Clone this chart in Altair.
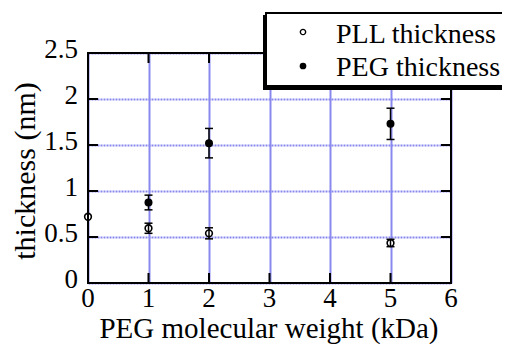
import altair as alt
import pandas as pd

# ---- data ----
pll_mw = [0, 1, 2, 5]
pll_thk = [0.72, 0.595, 0.54, 0.435]
pll_err = [0.0, 0.055, 0.06, 0.04]

peg_mw = [1, 2, 5]
peg_thk = [0.875, 1.52, 1.73]
peg_err = [0.08, 0.16, 0.17]

x_ticks = [0, 1, 2, 3, 4, 5, 6]
y_ticks = [0, 0.5, 1, 1.5, 2, 2.5]
x_tick_labels = ["0", "1", "2", "3", "4", "5", "6"]
y_tick_labels = ["0", "0.5", "1", "1.5", "2", "2.5"]
x_title = "PEG molecular weight (kDa)"
y_title = "thickness (nm)"
legend_labels = ["PLL thickness", "PEG thickness"]

W, H = 363, 230
FONT = "Liberation Serif"
GRID = "#8888ee"

pll = pd.DataFrame({"x": pll_mw, "y": pll_thk, "e": pll_err})
peg = pd.DataFrame({"x": peg_mw, "y": peg_thk, "e": peg_err})
pll_eb = pll[pll["e"] > 0]

xs = alt.Scale(domain=[0, 6], nice=False, zero=False)
ys = alt.Scale(domain=[0, 2.5], nice=False, zero=False)

XA = alt.Axis(
    values=x_ticks, grid=True, gridColor=GRID, gridWidth=2, gridOpacity=1,
    domain=False, ticks=False, tickSize=0, labels=False, title=None)
YA = alt.Axis(
    values=y_ticks, grid=True, gridColor=GRID, gridWidth=2, gridOpacity=1,
    gridDash=[2, 1], domain=False, ticks=False, tickSize=0, labels=False,
    title=None)


def X(f):
    return alt.X(f, scale=xs, axis=XA)


def Y(f):
    return alt.Y(f, scale=ys, axis=YA)


one = pd.DataFrame({"a": [0]})

frame_style = dict(color="black", strokeWidth=2, strokeCap="square")
frame_top = alt.Chart(one).mark_rule(**frame_style).encode(
    x=alt.datum(0, scale=xs, axis=XA), x2=alt.datum(6),
    y=alt.datum(2.5, scale=ys, axis=YA))
frame_bot = alt.Chart(one).mark_rule(**frame_style).encode(
    x=alt.datum(0, scale=xs, axis=XA), x2=alt.datum(6),
    y=alt.datum(0, scale=ys, axis=YA))
frame_l = alt.Chart(one).mark_rule(**frame_style).encode(
    x=alt.datum(0, scale=xs, axis=XA),
    y=alt.datum(0, scale=ys, axis=YA), y2=alt.datum(2.5))
frame_r = alt.Chart(one).mark_rule(**frame_style).encode(
    x=alt.datum(6, scale=xs, axis=XA),
    y=alt.datum(0, scale=ys, axis=YA), y2=alt.datum(2.5))

xt = pd.DataFrame({"v": x_ticks[1:-1]})
yt = pd.DataFrame({"v": y_ticks[1:-1]})
tk = dict(color="black", strokeWidth=2)
tick_b = alt.Chart(xt).mark_rule(**tk).encode(
    x=X("v:Q"), y=alt.value(H - 10), y2=alt.value(H))
tick_t = alt.Chart(xt).mark_rule(**tk).encode(
    x=X("v:Q"), y=alt.value(0), y2=alt.value(10))
tick_l = alt.Chart(yt).mark_rule(**tk).encode(
    y=Y("v:Q"), x=alt.value(0), x2=alt.value(10))
tick_r = alt.Chart(yt).mark_rule(**tk).encode(
    y=Y("v:Q"), x=alt.value(W - 10), x2=alt.value(W))

# tick labels and titles as text marks (serif)
xl = pd.DataFrame({"v": x_ticks, "t": x_tick_labels})
yl = pd.DataFrame({"v": y_ticks, "t": y_tick_labels})
x_labels = alt.Chart(xl).mark_text(
    font=FONT, fontSize=27, color="black", align="center",
    baseline="alphabetic").encode(x=X("v:Q"), y=alt.value(H + 24), text="t:N")
y_labels = alt.Chart(yl).mark_text(
    font=FONT, fontSize=27, color="black", align="right",
    baseline="alphabetic", dy=5).encode(y=Y("v:Q"), x=alt.value(-10), text="t:N")
xtt = alt.Chart(pd.DataFrame({"t": [x_title]})).mark_text(
    font=FONT, fontSize=29, color="black", align="center",
    baseline="alphabetic").encode(x=alt.value(181), y=alt.value(H + 55), text="t:N")
ytt = alt.Chart(pd.DataFrame({"t": [y_title]})).mark_text(
    font=FONT, fontSize=30, color="black", align="center", angle=270,
    baseline="alphabetic").encode(x=alt.value(-53), y=alt.value(118), text="t:N")


def errbars(df):
    base = alt.Chart(df).transform_calculate(
        lo="datum.y - datum.e", hi="datum.y + datum.e")
    bar = base.mark_rule(color="black", strokeWidth=1.5).encode(
        x=X("x:Q"), y=Y("lo:Q"), y2="hi:Q")
    cap_lo = base.mark_tick(orient="horizontal", color="black", size=8,
                            thickness=1.5, opacity=1).encode(
        x=X("x:Q"), y=Y("lo:Q"))
    cap_hi = base.mark_tick(orient="horizontal", color="black", size=8,
                            thickness=1.5, opacity=1).encode(
        x=X("x:Q"), y=Y("hi:Q"))
    return [bar, cap_lo, cap_hi]


pll_pts = alt.Chart(pll).mark_point(
    shape="circle", filled=False, fill="white", fillOpacity=1, stroke="black",
    strokeWidth=1.6, size=45, opacity=1).encode(x=X("x:Q"), y=Y("y:Q"))
peg_pts = alt.Chart(peg).mark_point(
    shape="circle", filled=True, color="black", size=64, opacity=1).encode(
    x=X("x:Q"), y=Y("y:Q"))

# legend box with drop shadow
shadow = alt.Chart(one).mark_rect(color="black").encode(
    x=alt.value(175), x2=alt.value(440), y=alt.value(-38), y2=alt.value(37))
box = alt.Chart(one).mark_rect(fill="white", stroke="black", strokeWidth=2).encode(
    x=alt.value(178), x2=alt.value(445), y=alt.value(-40), y2=alt.value(33))
leg1 = pd.DataFrame({"label": [legend_labels[0]]})
leg2 = pd.DataFrame({"label": [legend_labels[1]]})
leg_sym1 = alt.Chart(leg1).mark_point(
    shape="circle", filled=False, fill="white", fillOpacity=1, stroke="black",
    strokeWidth=1.4, size=28, opacity=1).encode(x=alt.value(215), y=alt.value(-21))
leg_sym2 = alt.Chart(leg2).mark_point(
    shape="circle", filled=True, color="black", size=45, opacity=1).encode(
    x=alt.value(215), y=alt.value(13))
txt = dict(align="left", baseline="alphabetic", font=FONT, fontSize=28, color="black")
leg_t1 = alt.Chart(leg1).mark_text(**txt).encode(
    x=alt.value(248), y=alt.value(-10), text="label:N")
leg_t2 = alt.Chart(leg2).mark_text(**txt).encode(
    x=alt.value(248), y=alt.value(23), text="label:N")

chart = alt.layer(
    pll_pts, frame_top, frame_bot, frame_l, frame_r,
    tick_b, tick_t, tick_l, tick_r,
    x_labels, y_labels, xtt, ytt,
    *errbars(pll_eb), *errbars(peg),
    peg_pts,
    shadow, box, leg_sym1, leg_sym2, leg_t1, leg_t2,
).properties(
    width=W, height=H,
    autosize=alt.AutoSizeParams(type="none"),
    padding={"left": 80, "top": 45, "right": 51, "bottom": 61},
    background="white",
).configure_view(strokeWidth=0)

chart.save("out.html", embed_options={"renderer": "svg", "actions": False})
